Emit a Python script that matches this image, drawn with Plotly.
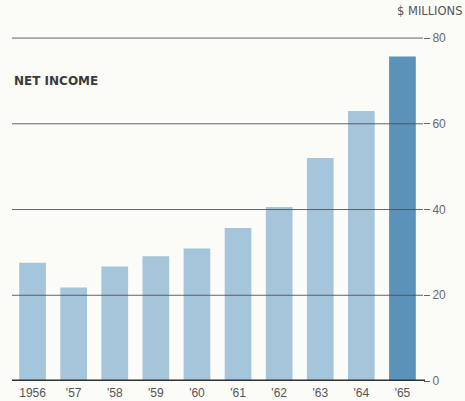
import plotly.graph_objects as go

years = ["1956", "'57", "'58", "'59", "'60", "'61", "'62", "'63", "'64", "'65"]
net_income = [27.6, 21.8, 26.7, 29.1, 30.9, 35.7, 40.6, 52.0, 63.0, 75.7]
y_ticks = [0, 20, 40, 60, 80]

W, H = 465, 401
bar_colors = ["#a5c5db"] * (len(years) - 1) + ["#5b92ba"]

fig = go.Figure()
fig.add_trace(go.Bar(
    x=list(range(len(years))), y=net_income,
    marker=dict(color=bar_colors, line=dict(width=0)),
    width=0.65, hoverinfo="skip",
))

# gridlines drawn above bars
for v in y_ticks[1:]:
    fig.add_shape(type="line", xref="paper", yref="y", x0=0, x1=1, y0=v, y1=v,
                  line=dict(color="rgba(70,75,80,0.85)", width=1), layer="above")
fig.add_shape(type="line", xref="paper", yref="y", x0=0, x1=1.005, y0=0, y1=0,
              line=dict(color="#2f3133", width=3), layer="above")

fig.update_layout(
    template="none",
    width=W, height=H,
    margin=dict(l=12, r=42, t=37, b=20),
    paper_bgcolor="#fbfbf8", plot_bgcolor="#fbfbf8",
    showlegend=False,
    bargap=0.35,
    xaxis=dict(
        range=[-0.5, 9.5], tickmode="array",
        tickvals=list(range(len(years))), ticktext=years,
        showgrid=False, zeroline=False, showline=False, ticks="",
        ticklabelstandoff=3, automargin=False,
        tickfont=dict(family="Liberation Sans", size=12, color="#555"),
        fixedrange=True,
    ),
    yaxis=dict(
        range=[0, 80.25], side="right", tickmode="array", tickvals=y_ticks,
        showgrid=False, zeroline=False, showline=False, automargin=False,
        ticks="outside", ticklen=6, tickcolor="rgba(70,75,80,0.85)", tickwidth=1,
        tickfont=dict(family="Liberation Sans", size=12, color="#6a6a6a"),
        fixedrange=True,
    ),
    annotations=[
        dict(text="NET INCOME", xref="paper", yref="paper", x=0, y=0.872,
             xanchor="left", yanchor="middle", showarrow=False,
             font=dict(family="DejaVu Sans", size=12, color="#3a3a3a", weight="bold")),
        dict(text="$ MILLIONS", xref="paper", yref="paper", x=1.099, y=1.076,
             xanchor="right", yanchor="middle", showarrow=False,
             font=dict(family="DejaVu Sans", size=11.5, color="#555")),
    ],
)

fig.write_html("out.html")
